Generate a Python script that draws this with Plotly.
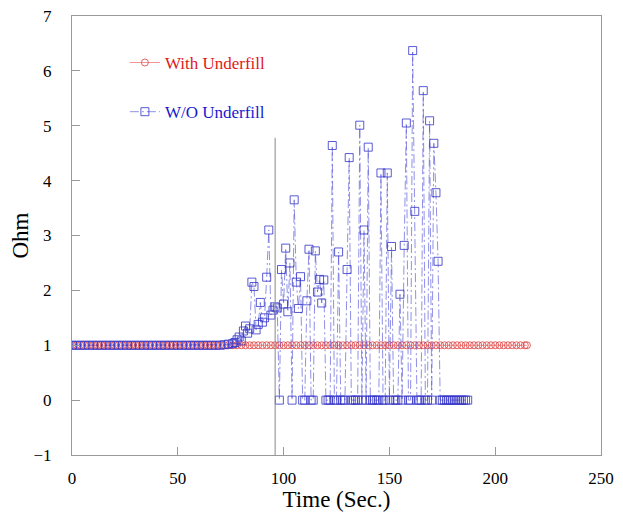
import plotly.graph_objects as go

# ---- data ----
with_times = [0, 2, 4, 6, 8, 10, 12, 14, 16, 18, 20, 22, 24, 26, 28, 30, 32, 34, 36, 38,
              40, 42, 44, 46, 48, 50, 52, 54, 56, 58, 60, 62, 64, 66, 68, 70, 72, 74, 76, 78,
              80, 82, 84, 86, 88, 90, 92, 94, 96, 98, 100, 102, 104, 106, 108, 110, 112, 114, 116, 118,
              120, 122, 124, 126, 128, 130, 132, 134, 136, 138, 140, 142, 144, 146, 148, 150, 152, 154, 156, 158,
              160, 162, 164, 166, 168, 170, 172, 174, 176, 178, 180, 182, 184, 186, 188, 190, 192, 194, 196, 198,
              200, 202, 204, 206, 208, 210, 212, 214, 215]
with_ohm = [1.00, 1.00, 1.00, 1.00, 1.00, 1.00, 1.00, 1.00, 1.00, 1.00, 1.00, 1.00, 1.00, 1.00, 1.00, 1.00, 1.00, 1.00, 1.00, 1.00,
            1.00, 1.00, 1.00, 1.00, 1.00, 1.00, 1.00, 1.00, 1.00, 1.00, 1.00, 1.00, 1.00, 1.00, 1.00, 1.00, 1.00, 1.00, 1.00, 1.00,
            1.00, 1.00, 1.00, 1.00, 1.00, 1.00, 1.00, 1.00, 1.00, 1.00, 1.00, 1.00, 1.00, 1.00, 1.00, 1.00, 1.00, 1.00, 1.00, 1.00,
            1.00, 1.00, 1.00, 1.00, 1.00, 1.00, 1.00, 1.00, 1.00, 1.00, 1.00, 1.00, 1.00, 1.00, 1.00, 1.00, 1.00, 1.00, 1.00, 1.00,
            1.00, 1.00, 1.00, 1.00, 1.00, 1.00, 1.00, 1.00, 1.00, 1.00, 1.00, 1.00, 1.00, 1.00, 1.00, 1.00, 1.00, 1.00, 1.00, 1.00,
            1.00, 1.00, 1.00, 1.00, 1.00, 1.00, 1.00, 1.00, 1.00]

wo_times = [0, 2, 4, 6, 8, 10, 12, 14, 16, 18, 20, 22, 24, 26, 28, 30, 32, 34, 36, 38,
            40, 42, 44, 46, 48, 50, 52, 54, 56, 58, 60, 62, 64, 66, 68, 70, 72, 74, 76,
            77, 78, 79, 80, 81, 82, 83, 84, 85, 86, 87, 88, 89, 90, 91, 92, 93, 94, 95, 96, 97,
            98, 99, 100, 101, 102, 103, 104, 105, 106, 107, 108, 109, 110, 111, 112, 113, 114, 115, 116, 117,
            118, 119, 120, 121, 122, 123, 124, 125, 126, 127, 128, 129, 130, 131, 132, 133, 134, 135, 136, 137,
            138, 139, 140, 141, 142, 143, 144, 145, 146, 147, 148, 149, 150, 151, 152, 153, 154, 155, 156, 157,
            158, 159, 160, 161, 162, 163, 164, 165, 166, 167, 168, 169, 170, 171, 172, 173, 174, 175, 176, 177,
            178, 179, 180, 181, 182, 183, 184, 185, 186, 187]
wo_ohm = [1.00, 1.00, 1.00, 1.00, 1.00, 1.00, 1.00, 1.00, 1.00, 1.00, 1.00, 1.00, 1.00, 1.00, 1.00, 1.00, 1.00, 1.00, 1.00, 1.00,
          1.00, 1.00, 1.00, 1.00, 1.00, 1.00, 1.00, 1.00, 1.00, 1.00, 1.00, 1.00, 1.00, 1.00, 1.00, 1.00, 1.01, 1.02, 1.03,
          1.05, 1.10, 1.15, 1.08, 1.26, 1.35, 1.22, 1.30, 2.15, 2.07, 1.28, 1.38, 1.78, 1.42, 1.50, 2.24, 3.10, 1.55, 1.64, 1.70, 1.68,
          0.00, 2.38, 1.75, 2.77, 1.61, 2.50, 0.00, 3.65, 2.15, 1.67, 2.25, 0.00, 0.00, 1.81, 2.75, 0.00, 0.00, 2.72, 1.97, 2.20,
          1.77, 2.19, 0.00, 0.00, 0.00, 4.64, 0.00, 0.00, 2.70, 0.00, 0.00, 0.00, 2.38, 4.42, 0.00, 0.00, 0.00, 0.00, 5.01, 0.00,
          3.10, 0.00, 4.61, 0.00, 0.00, 0.00, 0.00, 0.00, 4.14, 0.00, 0.00, 4.14, 0.00, 2.80, 0.00, 0.00, 0.00, 1.93, 0.00, 2.82,
          5.05, 0.00, 0.00, 6.37, 3.44, 0.00, 0.00, 0.00, 5.64, 0.00, 0.00, 5.09, 0.00, 4.68, 3.78, 2.53, 0.00, 0.00, 0.00, 0.00,
          0.00, 0.00, 0.00, 0.00, 0.00, 0.00, 0.00, 0.00, 0.00, 0.00]

event_time = 96
event_top = 4.78

x_ticks = [0, 50, 100, 150, 200, 250]
y_ticks = [-1, 0, 1, 2, 3, 4, 5, 6, 7]

FONT = "Liberation Serif"

fig = go.Figure()

fig.add_trace(go.Scatter(
    x=with_times, y=with_ohm, mode="lines+markers", name="With Underfill",
    line=dict(color="rgba(235,120,120,0.8)", width=1),
    marker=dict(symbol="circle-open", size=7, color="rgba(225,70,70,0.85)", line=dict(width=1)),
    legend="legend", showlegend=True,
))
fig.add_trace(go.Scatter(
    x=wo_times, y=wo_ohm, mode="lines+markers", name="W/O Underfill",
    line=dict(color="rgba(70,70,215,0.6)", width=1, dash="9px,3px,2px,3px"),
    marker=dict(symbol="square-open", size=8, color="rgba(50,50,200,0.8)", line=dict(width=1)),
    legend="legend2", showlegend=True,
))

fig.add_shape(type="line", x0=event_time, x1=event_time, y0=-1, y1=event_top,
              xref="x", yref="y", line=dict(color="#888888", width=1))

axis_common = dict(
    showgrid=False, zeroline=False, showline=True, mirror=True,
    linecolor="#999999", linewidth=1, automargin=False,
    ticks="inside", ticklen=8, tickcolor="#999999", tickwidth=1,
    ticklabeloverflow="allow",
    tickfont=dict(family=FONT, size=17, color="black"),
)

# the page body adds an 8px offset; the figure is sized to compensate
fig.update_layout(
    width=615, height=504,
    margin=dict(l=64, r=22, t=8, b=57, autoexpand=False),
    paper_bgcolor="white", plot_bgcolor="white",
    font=dict(family=FONT, color="black"),
    showlegend=True,
    xaxis=dict(range=[0, 250], tickvals=x_ticks, ticklabelstandoff=8,
               title=dict(text="Time (Sec.)", font=dict(family=FONT, size=23), standoff=0),
               **axis_common),
    yaxis=dict(range=[-1, 7], tickvals=y_ticks, ticklabelstandoff=16,
               title=dict(text="Ohm", font=dict(family=FONT, size=23), standoff=10),
               **axis_common),
    legend=dict(x=0.1, y=0.893, xanchor="left", yanchor="middle",
                bgcolor="rgba(0,0,0,0)",
                font=dict(family=FONT, size=17, color="#e01818")),
    legend2=dict(x=0.1, y=0.781, xanchor="left", yanchor="middle",
                 bgcolor="rgba(0,0,0,0)",
                 font=dict(family=FONT, size=17, color="#1818d0")),
)

fig.write_html("out.html")
